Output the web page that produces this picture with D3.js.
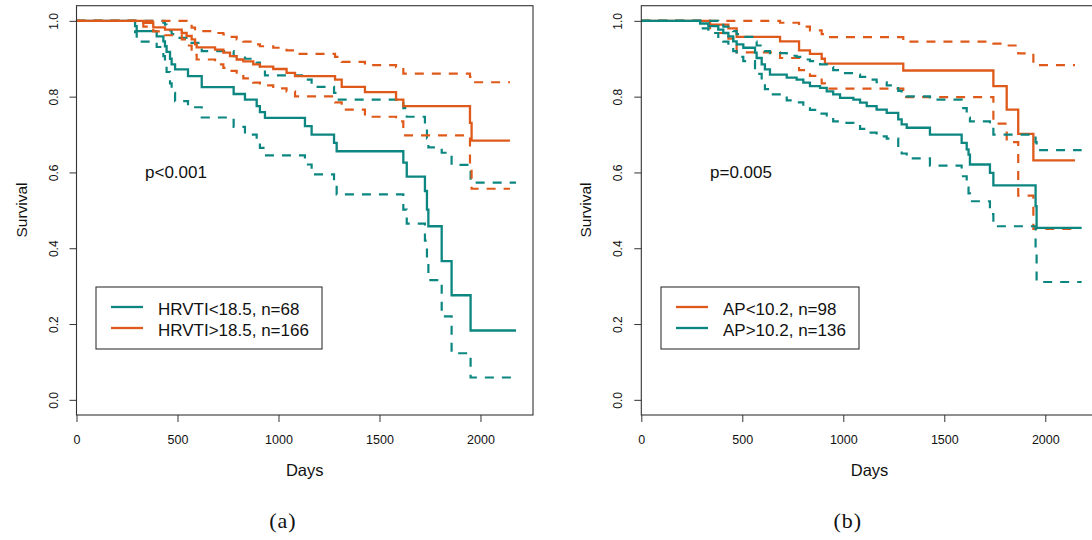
<!DOCTYPE html>
<html>
<head>
<meta charset="utf-8">
<script src="https://cdn.jsdelivr.net/npm/d3@7"></script>
<style>
  html, body { margin: 0; padding: 0; background: #fff; }
  svg { display: block; }
  text { font-family: "Liberation Sans", Arial, Helvetica, sans-serif; fill: #111; }
</style>
</head>
<body>
<svg id="chart" width="1092" height="540"></svg>
<script>
// ---- Kaplan-Meier estimates (days, survival) with 95% confidence limits ----

// Panel (a): HRVTI < 18.5
const hrvLowTimes = [290, 298, 397, 430, 438, 446, 463, 471, 488, 552, 620, 778, 834, 892, 908, 933, 1131, 1164, 1275, 1288, 1618, 1635, 1725, 1735, 1742, 1808, 1857, 1951];
const hrvLowSurv  = [0.986, 0.973, 0.959, 0.946, 0.933, 0.918, 0.900, 0.885, 0.872, 0.854, 0.825, 0.807, 0.792, 0.775, 0.759, 0.744, 0.722, 0.700, 0.678, 0.656, 0.626, 0.589, 0.551, 0.502, 0.458, 0.366, 0.276, 0.183];
const hrvLowUpper = [1, 1, 1, 0.995, 0.990, 0.985, 0.975, 0.965, 0.955, 0.942, 0.920, 0.907, 0.900, 0.890, 0.875, 0.856, 0.845, 0.826, 0.810, 0.792, 0.770, 0.747, 0.720, 0.690, 0.666, 0.652, 0.620, 0.573];
const hrvLowLower = [0.970, 0.945, 0.931, 0.907, 0.890, 0.865, 0.835, 0.810, 0.788, 0.772, 0.745, 0.720, 0.700, 0.680, 0.665, 0.645, 0.621, 0.595, 0.573, 0.542, 0.502, 0.465, 0.420, 0.370, 0.316, 0.220, 0.123, 0.059];
const hrvLowEnd = 2176;

// Panel (a): HRVTI > 18.5
const hrvHighTimes = [331, 380, 438, 521, 545, 570, 587, 595, 686, 727, 760, 793, 826, 875, 908, 974, 1040, 1082, 1280, 1313, 1428, 1582, 1618, 1948, 1956];
const hrvHighSurv  = [0.995, 0.983, 0.977, 0.968, 0.960, 0.951, 0.938, 0.930, 0.924, 0.916, 0.907, 0.898, 0.893, 0.885, 0.879, 0.873, 0.863, 0.854, 0.845, 0.826, 0.812, 0.792, 0.775, 0.731, 0.684];
const hrvHighUpper = [1, 1, 1, 1, 0.990, 0.982, 0.978, 0.973, 0.968, 0.964, 0.958, 0.951, 0.945, 0.938, 0.933, 0.929, 0.922, 0.913, 0.905, 0.892, 0.883, 0.878, 0.861, 0.852, 0.838];
const hrvHighLower = [0.985, 0.972, 0.962, 0.951, 0.935, 0.924, 0.910, 0.898, 0.885, 0.876, 0.868, 0.854, 0.848, 0.837, 0.830, 0.822, 0.814, 0.801, 0.785, 0.766, 0.747, 0.735, 0.698, 0.615, 0.557];
const hrvHighEnd = 2146;

// Panel (b): AP < 10.2
const apLowTimes = [340, 431, 472, 687, 781, 835, 893, 909, 1297, 1743, 1809, 1866, 1941];
const apLowSurv  = [0.990, 0.980, 0.958, 0.946, 0.922, 0.913, 0.900, 0.887, 0.869, 0.828, 0.766, 0.702, 0.632];
const apLowUpper = [1, 1, 1, 0.995, 0.985, 0.975, 0.965, 0.957, 0.945, 0.940, 0.935, 0.914, 0.883];
const apLowLower = [0.968, 0.953, 0.917, 0.902, 0.870, 0.855, 0.835, 0.821, 0.799, 0.729, 0.680, 0.539, 0.451];
const apLowEnd = 2147;

// Panel (b): AP > 10.2
const apHighTimes = [291, 332, 381, 406, 431, 455, 472, 505, 563, 571, 596, 612, 637, 720, 769, 802, 835, 885, 918, 950, 984, 1050, 1083, 1116, 1165, 1215, 1272, 1289, 1314, 1429, 1586, 1611, 1620, 1627, 1726, 1743, 1952, 1957];
const apHighSurv  = [0.993, 0.986, 0.977, 0.968, 0.959, 0.946, 0.938, 0.929, 0.916, 0.902, 0.885, 0.872, 0.858, 0.850, 0.845, 0.837, 0.828, 0.823, 0.814, 0.806, 0.797, 0.792, 0.784, 0.775, 0.766, 0.757, 0.740, 0.727, 0.718, 0.700, 0.678, 0.661, 0.647, 0.621, 0.599, 0.566, 0.511, 0.454];
const apHighUpper = [1, 1, 0.995, 0.985, 0.978, 0.973, 0.965, 0.958, 0.945, 0.935, 0.925, 0.920, 0.915, 0.908, 0.905, 0.898, 0.894, 0.885, 0.878, 0.870, 0.862, 0.858, 0.852, 0.845, 0.838, 0.830, 0.815, 0.808, 0.801, 0.792, 0.770, 0.750, 0.745, 0.735, 0.720, 0.700, 0.680, 0.659];
const apHighLower = [0.980, 0.968, 0.955, 0.945, 0.935, 0.920, 0.905, 0.894, 0.870, 0.860, 0.840, 0.820, 0.806, 0.790, 0.785, 0.775, 0.765, 0.755, 0.745, 0.735, 0.731, 0.725, 0.715, 0.705, 0.695, 0.689, 0.665, 0.650, 0.637, 0.618, 0.590, 0.560, 0.545, 0.524, 0.490, 0.458, 0.400, 0.311];
const apHighEnd = 2180;

// Axis ticks and labels
const xTicks = [0, 500, 1000, 1500, 2000];
const yTicks = [0, 0.2, 0.4, 0.6, 0.8, 1.0];
const xMax = 2260;          // data range plus 4% on the right
const yDomain = [-0.04, 1.04];

const TEAL = "#0b8680";
const ORANGE = "#df5a1a";

const panels = [
  {
    left: 76.5,
    pText: "p<0.001", pX: 145,
    caption: "(a)",
    legendX: 96, legendW: 226,
    groups: [
      { label: "HRVTI<18.5, n=68",  color: TEAL,   times: hrvLowTimes,  surv: hrvLowSurv,  upper: hrvLowUpper,  lower: hrvLowLower,  end: hrvLowEnd },
      { label: "HRVTI>18.5, n=166", color: ORANGE, times: hrvHighTimes, surv: hrvHighSurv, upper: hrvHighUpper, lower: hrvHighLower, end: hrvHighEnd }
    ]
  },
  {
    left: 641.3,
    pText: "p=0.005", pX: 710,
    caption: "(b)",
    legendX: 661, legendW: 198,
    groups: [
      { label: "AP<10.2, n=98",  color: ORANGE, times: apLowTimes,  surv: apLowSurv,  upper: apLowUpper,  lower: apLowLower,  end: apLowEnd },
      { label: "AP>10.2, n=136", color: TEAL,   times: apHighTimes, surv: apHighSurv, upper: apHighUpper, lower: apHighLower, end: apHighEnd }
    ]
  }
];

const svg = d3.select("#chart");
const plotW = 456.5, plotTop = 5.7, plotBottom = 415;

function stepPoints(times, vals, end) {
  const pts = [[0, 1]];
  times.forEach((t, i) => pts.push([t, vals[i]]));
  pts.push([end, vals[vals.length - 1]]);
  return pts;
}

panels.forEach(p => {
  const x = d3.scaleLinear().domain([0, xMax]).range([p.left, p.left + plotW]);
  const y = d3.scaleLinear().domain(yDomain).range([plotBottom, plotTop]);
  const g = svg.append("g");

  const line = d3.line()
    .x(d => x(d[0]))
    .y(d => y(d[1]))
    .curve(d3.curveStepAfter);

  // survival curves with dashed confidence limits
  p.groups.forEach(grp => {
    [grp.upper, grp.lower].forEach(band => {
      g.append("path")
        .attr("d", line(stepPoints(grp.times, band, grp.end)))
        .attr("fill", "none")
        .attr("stroke", grp.color)
        .attr("stroke-width", 2.2)
        .attr("stroke-dasharray", "9,8");
    });
    g.append("path")
      .attr("d", line(stepPoints(grp.times, grp.surv, grp.end)))
      .attr("fill", "none")
      .attr("stroke", grp.color)
      .attr("stroke-width", 2.3);
  });

  // frame
  g.append("rect")
    .attr("x", p.left).attr("y", plotTop)
    .attr("width", plotW).attr("height", plotBottom - plotTop)
    .attr("fill", "none").attr("stroke", "#333").attr("stroke-width", 1.1);

  // x axis
  const xa = g.append("g")
    .attr("transform", `translate(0,${plotBottom})`)
    .attr("color", "#333")
    .call(d3.axisBottom(x).tickValues(xTicks).tickSize(7).tickSizeOuter(0).tickPadding(13).tickFormat(d3.format("d")));
  xa.select(".domain").remove();
  xa.selectAll("text").attr("font-size", 12.5).attr("font-family", null).style("fill", "#111");

  // y axis with rotated labels
  const ya = g.append("g")
    .attr("transform", `translate(${p.left},0)`)
    .attr("color", "#333")
    .call(d3.axisLeft(y).tickValues(yTicks).tickSize(7).tickSizeOuter(0).tickFormat(d3.format(".1f")));
  ya.select(".domain").remove();
  ya.selectAll("text")
    .attr("x", null).attr("dy", null)
    .attr("text-anchor", "middle")
    .attr("transform", "translate(-19,0) rotate(-90)")
    .attr("font-size", 12).attr("font-family", null).style("fill", "#111");

  // axis titles
  g.append("text")
    .attr("x", p.left + plotW / 2).attr("y", 476)
    .attr("text-anchor", "middle").attr("font-size", 16.5)
    .text("Days");
  g.append("text")
    .attr("transform", `translate(${p.left - 50},${210}) rotate(-90)`)
    .attr("text-anchor", "middle").attr("font-size", 15.5)
    .text("Survival");

  // log-rank p value
  g.append("text")
    .attr("x", p.pX).attr("y", 177.7)
    .attr("font-size", 17)
    .text(p.pText);

  // legend
  const lg = g.append("g");
  lg.append("rect")
    .attr("x", p.legendX).attr("y", 287)
    .attr("width", p.legendW).attr("height", 62)
    .attr("fill", "#fff").attr("stroke", "#333").attr("stroke-width", 1.1);
  p.groups.forEach((grp, i) => {
    const ly = 307 + i * 21;
    lg.append("line")
      .attr("x1", p.legendX + 15).attr("x2", p.legendX + 47)
      .attr("y1", ly).attr("y2", ly)
      .attr("stroke", grp.color).attr("stroke-width", 2.3);
    lg.append("text")
      .attr("x", p.legendX + 62).attr("y", ly + 8)
      .attr("font-size", 17)
      .text(grp.label);
  });

  // sub-figure caption
  g.append("text")
    .attr("x", p.left + 206.5).attr("y", 528)
    .attr("text-anchor", "middle")
    .style("font-family", "'Liberation Serif', 'Times New Roman', serif")
    .attr("font-size", 22)
    .attr("letter-spacing", 1)
    .text(p.caption);
});
</script>
</body>
</html>
